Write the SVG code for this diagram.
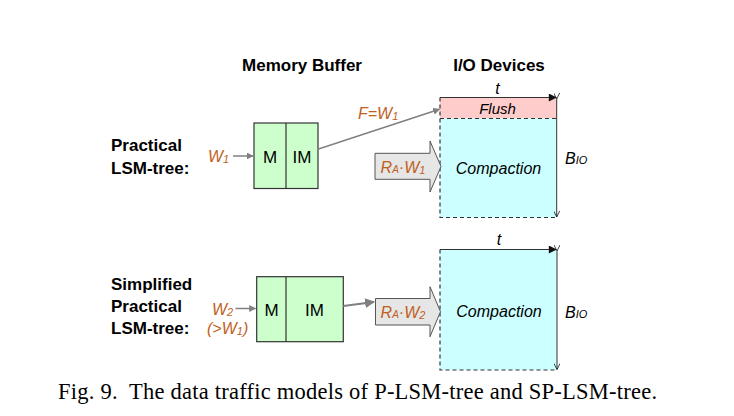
<svg xmlns="http://www.w3.org/2000/svg" width="734" height="416" viewBox="0 0 734 416">
<defs>
<style>
.hd{font-family:"Liberation Sans",Arial,sans-serif;font-weight:bold;font-size:17px;fill:#000}
.lb{font-family:"Liberation Sans",Arial,sans-serif;font-size:17px;fill:#000}
.it{font-family:"Liberation Sans",Arial,sans-serif;font-style:italic;fill:#000}
.or{font-family:"Liberation Sans",Arial,sans-serif;font-style:italic;font-size:16px;fill:#C0601C}
.mem{fill:#CCFFCC;stroke:#333;stroke-width:1.2}
.blk{fill:#E6E6E6;stroke:#555;stroke-width:1}
.dash{stroke:#333;stroke-width:1.2;stroke-dasharray:4,3;fill:none}
.gl{stroke:#808080;stroke-width:1.5;fill:none}
.cap{font-family:"Liberation Serif","Times New Roman",serif;font-size:22.5px;fill:#000}
</style>
<marker id="ga" viewBox="0 0 10 10" refX="9" refY="5" markerWidth="7" markerHeight="7" markerUnits="userSpaceOnUse" orient="auto"><path d="M0,0 L10,5 L0,10 z" fill="#808080"/></marker>
<marker id="ga2" viewBox="0 0 10 10" refX="9" refY="5" markerWidth="10" markerHeight="10" markerUnits="userSpaceOnUse" orient="auto"><path d="M0,0 L10,5 L0,10 z" fill="#808080"/></marker>
<marker id="ka" viewBox="0 0 10 10" refX="9" refY="5" markerWidth="9" markerHeight="8" markerUnits="userSpaceOnUse" orient="auto"><path d="M0,0 L10,5 L0,10 z" fill="#111"/></marker>
<marker id="va" viewBox="0 0 10 10" refX="10" refY="5" markerWidth="7" markerHeight="6" markerUnits="userSpaceOnUse" orient="auto"><path d="M0,0 L10,5 L0,10" fill="none" stroke="#111" stroke-width="1.3"/></marker>
</defs>
<rect width="734" height="416" fill="#fff"/>

<g id="headers">
<text class="hd" x="302" y="70.5" text-anchor="middle">Memory Buffer</text>
<text class="hd" x="499" y="70.5" text-anchor="middle">I/O Devices</text>
</g>

<g id="label-practical">
<text class="hd" x="111" y="150.5">Practical</text>
<text class="hd" x="111" y="173.5">LSM-tree:</text>
</g>
<g id="label-simplified">
<text class="hd" x="111" y="290">Simplified</text>
<text class="hd" x="111" y="312">Practical</text>
<text class="hd" x="111" y="334">LSM-tree:</text>
</g>

<g id="mem1">
<rect class="mem" x="254" y="123" width="64" height="65.5"/>
<line x1="286" y1="123" x2="286" y2="188.5" stroke="#333" stroke-width="1.2"/>
<text class="lb" x="270" y="162.5" text-anchor="middle">M</text>
<text class="lb" x="302" y="162.5" text-anchor="middle">IM</text>
</g>
<g id="mem2">
<rect class="mem" x="256.7" y="276.7" width="86.6" height="65"/>
<line x1="286" y1="276.7" x2="286" y2="341.7" stroke="#333" stroke-width="1.2"/>
<text class="lb" x="271.5" y="315.5" text-anchor="middle">M</text>
<text class="lb" x="314.5" y="315.5" text-anchor="middle">IM</text>
</g>

<g id="io1">
<rect x="440" y="97.5" width="116.7" height="21" fill="#FFCCCC"/>
<rect x="440" y="118.5" width="116.7" height="99" fill="#CCFFFF"/>
<path class="dash" d="M440,97.5 V217.5 H556.7"/>
<line class="dash" x1="440" y1="118.5" x2="556.7" y2="118.5"/>
<text class="it" x="497.5" y="114" font-size="15" text-anchor="middle">Flush</text>
<text class="it" x="498.5" y="173.5" font-size="16" text-anchor="middle">Compaction</text>
</g>
<g id="io2">
<rect x="440" y="249.5" width="117" height="120.5" fill="#CCFFFF"/>
<path class="dash" d="M440,249.5 V370 H557"/>
<text class="it" x="499" y="317" font-size="16" text-anchor="middle">Compaction</text>
</g>

<g id="flow1">
<polygon class="blk" points="375,153.3 430,153.3 430,141 441,166.5 430,192 430,179.3 375,179.3"/>
<text class="or" x="403" y="173" text-anchor="middle">R<tspan font-size="10">A</tspan>·W<tspan font-size="11" dy="1">1</tspan></text>
</g>
<g id="flow2">
<polygon class="blk" points="375.5,298.5 430,298.5 430,286.7 440.5,311.7 430,336.7 430,325 375.5,325"/>
<text class="or" x="403" y="318" text-anchor="middle">R<tspan font-size="10">A</tspan>·W<tspan font-size="11" dy="1">2</tspan></text>
</g>

<g id="labels">
<text class="or" x="208" y="162">W<tspan font-size="11" dy="1">1</tspan></text>
<text class="or" x="358" y="119">F=W<tspan font-size="11" dy="1">1</tspan></text>
<text class="or" x="212" y="315">W<tspan font-size="11" dy="1">2</tspan></text>
<text class="or" x="207" y="334">(&gt;W<tspan font-size="11" dy="1">1</tspan><tspan dy="-1">)</tspan></text>
<text class="it" x="497.5" y="93.5" font-size="16" text-anchor="middle">t</text>
<text class="it" x="499" y="244.5" font-size="16" text-anchor="middle">t</text>
<text class="it" x="565" y="164" font-size="16">B<tspan font-size="11">IO</tspan></text>
<text class="it" x="565" y="317.5" font-size="16">B<tspan font-size="11">IO</tspan></text>
</g>

<g id="connectors">
<line class="gl" x1="233" y1="156" x2="253" y2="156" marker-end="url(#ga)"/>
<line class="gl" x1="318.5" y1="149" x2="439.5" y2="109.3" marker-end="url(#ga)"/>
<line class="gl" x1="235.5" y1="308.5" x2="255.5" y2="308.5" marker-end="url(#ga)"/>
<line x1="343.3" y1="306" x2="374" y2="302" stroke="#808080" stroke-width="2.2" marker-end="url(#ga2)"/>
<line x1="440" y1="97.5" x2="556" y2="97.5" stroke="#333" stroke-width="1.2" marker-end="url(#ka)"/>
<line x1="556.7" y1="99" x2="556.7" y2="217" stroke="#333" stroke-width="1" marker-start="url(#va)" marker-end="url(#va)"/>
<line x1="440" y1="249.5" x2="556" y2="249.5" stroke="#333" stroke-width="1.2" marker-end="url(#ka)"/>
<line x1="557" y1="251" x2="557" y2="369.5" stroke="#333" stroke-width="1" marker-start="url(#va)" marker-end="url(#va)"/>
</g>

<g id="caption">
<text class="cap" x="58" y="399" xml:space="preserve" textLength="599" lengthAdjust="spacing">Fig. 9.  The data traffic models of P-LSM-tree and SP-LSM-tree.</text>
</g>
</svg>
